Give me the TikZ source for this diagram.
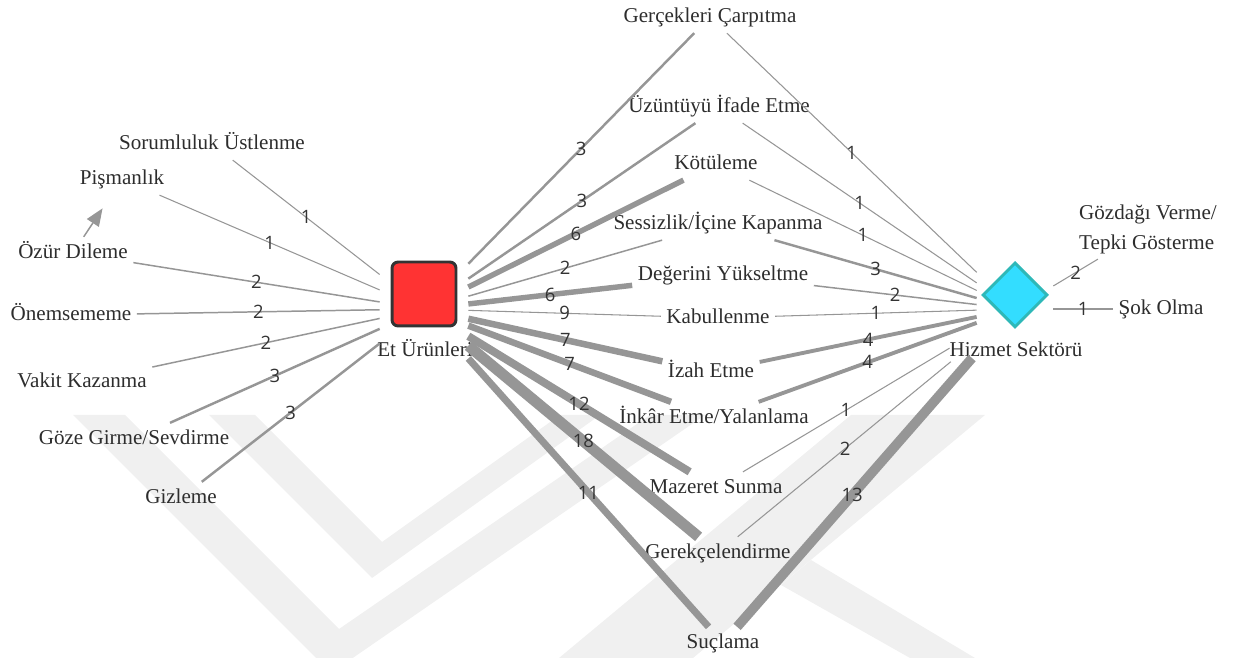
\documentclass[tikz,border=0pt]{standalone}
\usepackage{fontspec}
\setmainfont{Liberation Serif}
\newfontfamily\numfont{Open Sans}
\usetikzlibrary{arrows.meta,shapes.geometric}

\tikzset{
  term/.style={font=\fontsize{12}{17}\selectfont, text=textColor, inner sep=3pt,
    text height=9pt, text depth=3pt},
  num/.style={font=\numfont\fontsize{10.5}{12}\selectfont, text=numColor, inner sep=0pt},
  ew/.style={draw=edgeColor, line width=#1},
}

\begin{document}
\begin{tikzpicture}[x=0.02cm,y=-0.02cm]
% Colors
\definecolor{edgeColor}{RGB}{150,150,150}
\definecolor{textColor}{RGB}{45,45,45}
\definecolor{numColor}{RGB}{51,51,51}
\definecolor{markColor}{RGB}{240,240,240}
\definecolor{etFill}{RGB}{255,51,51}
\definecolor{etLine}{RGB}{51,51,51}
\definecolor{hizFill}{RGB}{51,221,255}
\definecolor{hizLine}{RGB}{46,184,184}
\useasboundingbox (0,0) rectangle (1234,658);
% Watermark
\begin{scope}
	\clip (0,0) rectangle (1234,658);
	\fill[markColor] (73,415) -- (125,415) -- (339,629) -- (650,415)
	  -- (705,415) -- (331,673) -- cycle;
	\fill[markColor] (209,415) -- (255,415) -- (382,542) -- (560,415)
	  -- (600,415) -- (372,578) -- cycle;
	\fill[markColor] (851,415) -- (985,415) -- (693,658) -- (559,658) -- cycle;
	\fill[markColor] (781,585) -- (811,560) -- (975,658) -- (910,658) -- cycle;
\end{scope}
% Hubs
\node[draw=etLine, line width=1.7pt, fill=etFill, rounded corners=3.5pt,
  minimum size=1.28cm] (etbox) at (424,294) {};
\node[term] (etlabel) at (425,351) {Et Ürünleri};
\node[diamond, draw=hizLine, line width=1.7pt, fill=hizFill, inner sep=0pt,
  minimum width=1.3cm, minimum height=1.3cm] (hizbox) at (1015,295) {};
\node[term] (hizlabel) at (1016,351) {Hizmet Sektörü};
% hub ends of the connectors
\node[minimum width=1.76cm, minimum height=2cm, inner sep=0pt] (et) at (424,309) {};
\node[minimum width=1.52cm, minimum height=2cm, inner sep=0pt] (hiz) at (1015,309) {};
% Left strategies
\node[term] (sorum)  at (212,144) {Sorumluluk Üstlenme};
\node[term] (pisman) at (122,179) {Pişmanlık};
\node[term] (ozur)   at (73,253)  {Özür Dileme};
\node[term] (onem)   at (71,315)  {Önemsememe};
\node[term] (vakit)  at (82,382)  {Vakit Kazanma};
\node[term] (goze)   at (134,439) {Göze Girme/Sevdirme};
\node[term] (gizle)  at (181,498) {Gizleme};
% Shared strategies
\node[term] (gercek)  at (710,17)  {Gerçekleri Çarpıtma};
\node[term] (uzunt)   at (719,107) {Üzüntüyü İfade Etme};
\node[term] (kotu)    at (716,164) {Kötüleme};
\node[term] (sessiz)  at (718,224) {Sessizlik/İçine Kapanma};
\node[term] (deger)   at (723,275) {Değerini Yükseltme};
\node[term] (kabul)   at (718,318) {Kabullenme};
\node[term] (izah)    at (711,372) {İzah Etme};
\node[term] (inkar)   at (714,418) {İnkâr Etme/Yalanlama};
\node[term] (mazeret) at (716,488) {Mazeret Sunma};
\node[term] (gerekce) at (718,553) {Gerekçelendirme};
\node[term] (sucla)   at (723,643) {Suçlama};
% Right strategies
\node[font=\fontsize{12}{17}\selectfont, text=textColor, inner sep=3pt, align=left]
  (gozdagi) at (1148,229) {Gözdağı Verme/\\Tepki Gösterme};
\node[term] (sok) at (1161,309) {Şok Olma};
% Et Ürünleri connectors
\draw[ew=0.6pt]  (et) -- node[num] {1} (sorum);
\draw[ew=0.6pt]  (et) -- node[num] {1} (pisman);
\draw[ew=0.85pt] (et) -- node[num] {2} (ozur);
\draw[ew=0.85pt] (et) -- node[num] {2} (onem);
\draw[ew=0.85pt] (et) -- node[num] {2} (vakit);
\draw[ew=1.4pt]  (et) -- node[num] {3} (goze);
\draw[ew=1.4pt]  (et) -- node[num] {3} (gizle);
\draw[ew=1.4pt]  (et) -- node[num] {3} (gercek);
\draw[ew=1.4pt]  (et) -- node[num] {3} (uzunt);
\draw[ew=3.1pt]  (et) -- node[num] {6} (kotu);
\draw[ew=0.85pt] (et) -- node[num] {2} (sessiz);
\draw[ew=3.1pt]  (et) -- node[num] {6} (deger);
\draw[ew=0.6pt]  (et) -- node[num] {9} (kabul);
\draw[ew=3.7pt]  (et) -- node[num] {7} (izah);
\draw[ew=3.7pt]  (et) -- node[num] {7} (inkar);
\draw[ew=4.5pt]  (et) -- node[num] {12} (mazeret);
\draw[ew=6.2pt]  (et) -- node[num] {18} (gerekce);
\draw[ew=4pt]    (et) -- node[num] {11} (sucla);
% Hizmet Sektörü connectors
\draw[ew=0.6pt]  (hiz) -- node[num] {1} (gercek);
\draw[ew=0.6pt]  (hiz) -- node[num] {1} (uzunt);
\draw[ew=0.6pt]  (hiz) -- node[num] {1} (kotu);
\draw[ew=1.4pt]  (hiz) -- node[num] {3} (sessiz);
\draw[ew=0.85pt] (hiz) -- node[num] {2} (deger);
\draw[ew=0.6pt]  (hiz) -- node[num] {1} (kabul);
\draw[ew=2.2pt]  (hiz) -- node[num] {4} (izah);
\draw[ew=2.2pt]  (hiz) -- node[num] {4} (inkar);
\draw[ew=0.6pt, shorten <=18pt]  (hiz) -- node[num, pos=0.56] {1} (mazeret);
\draw[ew=0.6pt, shorten <=19pt]  (hiz) -- node[num, pos=0.55] {2} (gerekce);
\draw[ew=5.5pt, shorten <=4pt]   (hiz) -- node[num, pos=0.52] {13} (sucla);
\draw[ew=0.6pt]  (hiz) -- node[num] {2} (gozdagi);
\draw[ew=0.6pt]  (hiz) -- node[num] {1} (sok);
% Özür Dileme -> Pişmanlık
\draw[ew=0.85pt, -{Triangle[length=10pt,width=8pt]}, shorten >=9pt] (ozur) -- (pisman);
\end{tikzpicture}
\end{document}
